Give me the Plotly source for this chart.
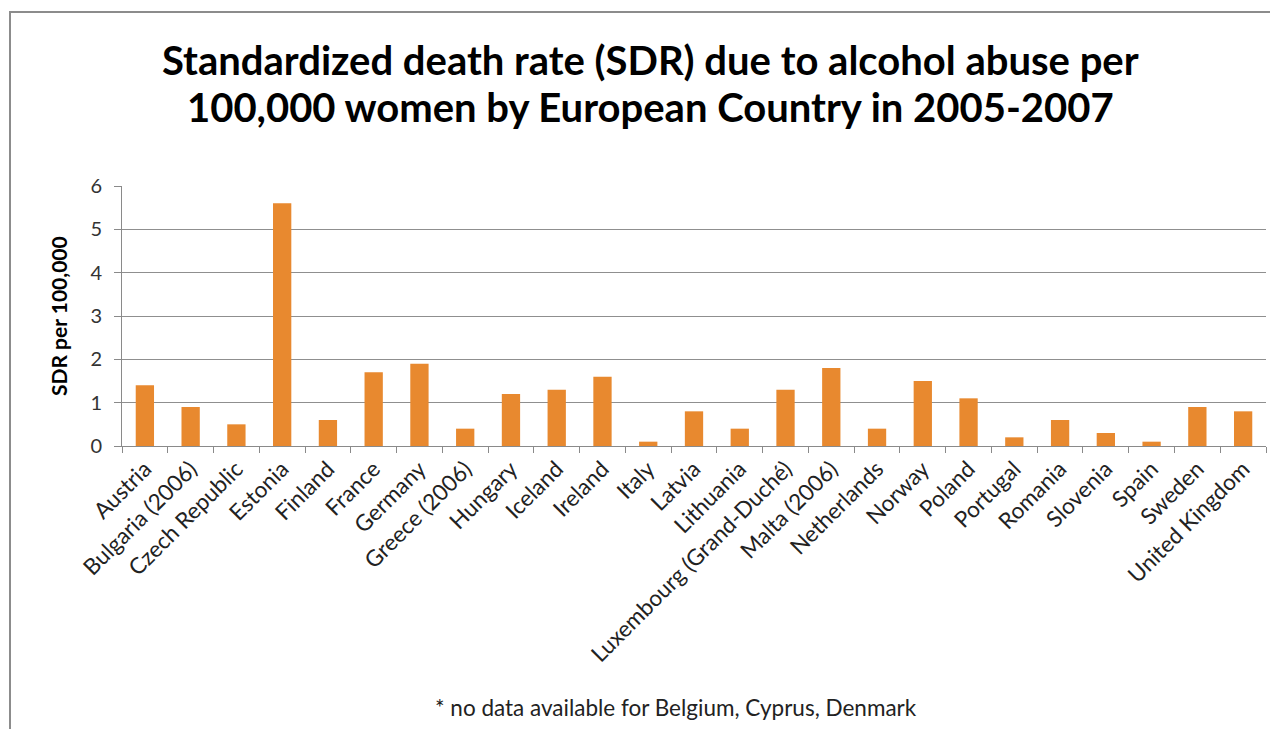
"""Standardized death rate due to alcohol abuse, women, by European country."""

import plotly.graph_objects as go

# Data
countries = [
    "Austria", "Bulgaria (2006)", "Czech Republic", "Estonia", "Finland",
    "France", "Germany", "Greece (2006)", "Hungary", "Iceland", "Ireland",
    "Italy", "Latvia", "Lithuania", "Luxembourg (Grand-Duché)", "Malta (2006)",
    "Netherlands", "Norway", "Poland", "Portugal", "Romania", "Slovenia",
    "Spain", "Sweden", "United Kingdom",
]
sdr_values = [
    1.4, 0.9, 0.5, 5.6, 0.6,
    1.7, 1.9, 0.4, 1.2, 1.3, 1.6,
    0.1, 0.8, 0.4, 1.3, 1.8,
    0.4, 1.5, 1.1, 0.2, 0.6, 0.3,
    0.1, 0.9, 0.8,
]
y_ticks = [0, 1, 2, 3, 4, 5, 6]

TITLE_LINES = [
    "Standardized death rate (SDR) due to alcohol abuse per",
    "100,000 women by European Country in 2005-2007",
]
FOOTNOTE = "* no data available for Belgium, Cyprus, Denmark"

FONT = "Lato, 'Open Sans', sans-serif"

# the page adds an 8px body margin, so the figure is sized to fit inside it
OFF = 8
W, H = 1278 - 2 * OFF, 737 - 2 * OFF
# plot area in page pixels: x 122..1266, y 186..446
L = 122 - OFF
R = W - (1266 - OFF)
T = 186 - OFF
B = H - (446 - OFF)
plot_w = W - L - R
plot_h = H - T - B


def px_x(px):
    """page pixel x -> paper x"""
    return (px - OFF - L) / plot_w


def px_y(py):
    """page pixel y -> paper y"""
    return (H - B - (py - OFF)) / plot_h


fig = go.Figure()

fig.add_trace(go.Bar(
    x=countries,
    y=sdr_values,
    marker=dict(color="#E8892F", line=dict(width=0)),
    width=0.4,
))

fig.update_xaxes(
    type="category",
    tickangle=-45,
    tickfont=dict(family=FONT, size=22.5, color="#222222"),
    showline=True, linecolor="#8a8a8a", linewidth=1,
    ticks="outside", ticklen=6, tickcolor="#8a8a8a",
    tickson="boundaries",
    showgrid=False,
    automargin=False,
)

fig.update_yaxes(
    range=[0, 6],
    tickvals=y_ticks,
    tickfont=dict(family=FONT, size=20, color="#333333"),
    showline=True, linecolor="#8a8a8a", linewidth=1,
    ticks="outside", ticklen=7, tickcolor="#8a8a8a",
    ticklabelstandoff=8,
    showgrid=True, gridcolor="#8f8f8f", gridwidth=1,
    zeroline=False,
    automargin=False,
)

title_font = dict(family=FONT, size=40, color="black", weight="bold")
annotations = [
    dict(text=TITLE_LINES[0], xref="paper", yref="paper",
         x=px_x(650), y=px_y(60), xanchor="center", yanchor="middle",
         showarrow=False, font=title_font),
    dict(text=TITLE_LINES[1], xref="paper", yref="paper",
         x=px_x(650), y=px_y(107), xanchor="center", yanchor="middle",
         showarrow=False, font=title_font),
    dict(text="SDR per 100,000", textangle=-90,
         xref="paper", yref="paper",
         x=px_x(58), y=px_y(316), xanchor="center", yanchor="middle",
         showarrow=False,
         font=dict(family=FONT, size=21, color="black", weight="bold")),
    dict(text=FOOTNOTE, xref="paper", yref="paper",
         x=px_x(676), y=px_y(707), xanchor="center", yanchor="middle",
         showarrow=False,
         font=dict(family=FONT, size=22.5, color="#222222")),
]

frame = dict(color="#8c8c8c", width=2)

fig.update_layout(
    width=W, height=H,
    margin=dict(l=L, r=R, t=T, b=B, autoexpand=False),
    paper_bgcolor="white",
    plot_bgcolor="white",
    showlegend=False,
    annotations=annotations,
    shapes=[
        # outer chart frame: left and top edges (the rest is off the picture)
        dict(type="line", xref="paper", yref="paper",
             x0=px_x(10), x1=px_x(10), y0=px_y(760), y1=px_y(11),
             line=frame, layer="above"),
        dict(type="line", xref="paper", yref="paper",
             x0=px_x(10), x1=px_x(1300), y0=px_y(12), y1=px_y(12),
             line=frame, layer="above"),
    ],
)

fig.write_html("out.html")
